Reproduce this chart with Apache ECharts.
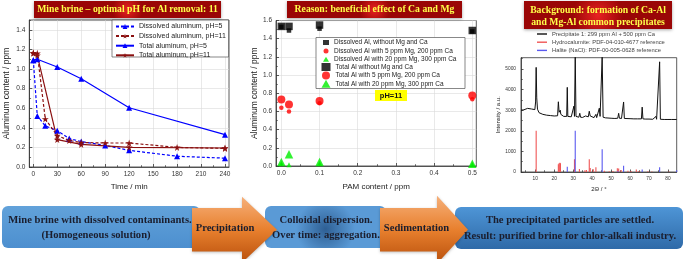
<!DOCTYPE html>
<html>
<head>
<meta charset="utf-8">
<script src="https://cdn.jsdelivr.net/npm/echarts@6/dist/echarts.min.js"></script>
<style>
  html, body { margin: 0; padding: 0; background: #fff; }
  #chart { width: 685px; height: 259px; }
</style>
</head>
<body>
<div id="chart"></div>
<script>
// ---- panel 1: Al content vs time ----
var timeTicks = [0, 30, 60, 90, 120, 150, 180, 210, 240]
var timeMinor = [15, 45, 75, 105, 135, 165, 195, 225]
var alTicks = [0, 0.2, 0.4, 0.6, 0.8, 1.0, 1.2, 1.4]
var alMinor = [0.1, 0.3, 0.5, 0.7, 0.9, 1.1, 1.3, 1.5]
var dissolvedPH5 = [[0, 1.09], [5, 0.52], [15, 0.42], [30, 0.37], [45, 0.29], [60, 0.26], [90, 0.22], [120, 0.17], [180, 0.11], [240, 0.09]]
var dissolvedPH11 = [[0, 1.16], [5, 1.16], [15, 0.49], [30, 0.32], [45, 0.27], [60, 0.25], [90, 0.245], [120, 0.245], [180, 0.20], [240, 0.19]]
var totalPH5 = [[0, 1.09], [5, 1.10], [30, 1.02], [60, 0.90], [120, 0.605], [240, 0.33]]
var totalPH11 = [[0, 1.165], [5, 1.14], [30, 0.28], [60, 0.23], [120, 0.20], [240, 0.194]]

// ---- panel 2: Al content vs PAM ----
var pamX = [0, 0.02, 0.1, 0.5]
var pamTicks = [0, 0.1, 0.2, 0.3, 0.4, 0.5]
var pamMinor = [0.05, 0.15, 0.25, 0.35, 0.45]
var al2Ticks = [0, 0.2, 0.4, 0.6, 0.8, 1.0, 1.2, 1.4, 1.6]
var al2Minor = [0.1, 0.3, 0.5, 0.7, 0.9, 1.1, 1.3, 1.5]
var dissNone = [1.53, 1.49, 1.51, 1.48]
var dissLow = [0.64, 0.60, 0.69, 0.735]
var dissHigh = [0.03, 0.015, 0.03, 0.02]
var totNone = [1.535, 1.535, 1.55, 1.49]
var totLow = [0.73, 0.675, 0.715, 0.775]
var totHigh = [0.045, 0.13, 0.045, 0.025]

// ---- panel 3: XRD ----
var thetaTicks = [10, 20, 30, 40, 50, 60, 70, 80]
var thetaMinor = [5, 15, 25, 35, 45, 55, 65, 75, 85]
var intTicks = [0, 1000, 2000, 3000, 4000, 5000]
var intMinor = [500, 1500, 2500, 3500, 4500, 5500]
var pattern = [[2.5, 3000], [4, 3020], [5, 3060], [6, 3090], [7, 3085], [8, 3060], [9, 3040], [9.8, 3030], [10.2, 3400], [10.5, 5080], [10.8, 3600], [11.2, 3050],
  [12, 2880], [13, 2830], [14, 2800], [15, 2780], [16, 2760], [17, 2750], [18, 2740], [19, 2730], [20, 2720], [21, 2720], [21.8, 2730], [22.2, 3410], [22.6, 2900],
  [23.0, 2880], [23.2, 3000], [23.5, 2800], [24, 2720], [25, 2700], [26, 2690], [26.6, 2700], [26.9, 4110], [27.2, 2700], [28, 2680], [29, 2680], [30, 2670],
  [30.4, 3200], [30.7, 2700], [31.1, 5600], [31.5, 2700], [32, 2660], [33, 2660], [33.5, 2850], [33.9, 2660], [35, 2650], [36, 2670], [36.5, 2720], [37, 2660],
  [38, 2680], [38.5, 2950], [39, 2720], [40, 2650], [41, 2640], [42, 2800], [42.4, 2640], [43, 2640], [43.8, 3100], [44.2, 2700], [44.8, 2660], [45.3, 5600],
  [45.8, 2660], [47, 2630], [48, 2620], [50, 2610], [52, 2600], [53.5, 2610], [54, 2850], [54.4, 2610], [55.5, 2600], [56.6, 3400], [57, 2600], [58, 2590],
  [60, 2590], [62, 2580], [64, 2580], [66, 2580], [66.4, 3150], [66.8, 2580], [68, 2570], [70, 2570], [72, 2560], [73.7, 2700], [74, 2560], [75, 2560],
  [75.6, 5350], [76, 2560], [78, 2550], [80, 2550], [82, 2550], [84.6, 2550]]
var hydrocalumite = [[10.5, 2000], [22.2, 380], [22.6, 420], [23.0, 450], [23.3, 430], [30.7, 620], [33.3, 140], [36.2, 80], [37.0, 100], [38.5, 620], [39.0, 200],
  [40.6, 130], [42.0, 230], [46.5, 60], [49.0, 40], [51.0, 50], [53.3, 180], [54.0, 170], [55.3, 100], [58.9, 60], [60.5, 50], [63.3, 120], [64.6, 50],
  [69.4, 40], [71.5, 30], [80.5, 30]]
var halite = [[26.9, 260], [31.1, 2000], [45.3, 1100], [53.6, 50], [56.6, 300], [66.4, 120], [75.6, 230], [84.6, 80]]

var chart = echarts.init(document.getElementById('chart'))
var SANS = 'Liberation Sans'
var SERIF = 'Liberation Serif'
var STAR = 'path://M50,0 L61,35 L98,35 L68,57 L79,91 L50,70 L21,91 L32,57 L2,35 L39,35 Z'

function fix1(v) { return v.toFixed(1) }
function plain(v) { return String(v) }

// 主刻度轴
function majorAxis(grid, min, max, ticks, o) {
  return {
    gridIndex: grid, type: 'value', min: min, max: max,
    axisLine: { show: true, onZero: false, lineStyle: { color: '#333', width: 0.8 } },
    axisTick: { show: true, inside: true, length: o.tickLen || 3, customValues: ticks, lineStyle: { color: '#333', width: 0.8 } },
    axisLabel: { customValues: ticks, fontSize: o.fontSize || 6.5, color: '#333', margin: o.margin || 4, fontFamily: SANS, formatter: o.formatter || plain },
    splitLine: { show: !!o.split, lineStyle: { color: '#dadada', width: 0.6 } },
    name: o.name, nameLocation: 'middle', nameGap: o.nameGap,
    nameTextStyle: { fontSize: o.nameSize || 8, color: '#222', fontFamily: SANS }
  }
}
// 次刻度轴 (只画刻度)
function minorAxis(grid, min, max, ticks, pos) {
  return {
    gridIndex: grid, type: 'value', min: min, max: max, position: pos,
    axisLine: { show: false, onZero: false },
    axisTick: { show: true, inside: true, length: 1.8, customValues: ticks, lineStyle: { color: '#333', width: 0.7 } },
    axisLabel: { show: false },
    splitLine: { show: false }
  }
}

function gradRed() {
  return new echarts.graphic.RadialGradient(0.5, 0.5, 0.9, [
    { offset: 0, color: '#e82222' }, { offset: 1, color: '#9a0606' }])
}
function gradArrow() {
  return new echarts.graphic.LinearGradient(0, 0, 0, 1, [
    { offset: 0, color: '#f6b07a' }, { offset: 0.5, color: '#e8802e' }, { offset: 1, color: '#b9500c' }])
}
function txt(x, y, s, font, fill) {
  return { type: 'text', x: x, y: y, z: 120,
    style: { text: s, font: font, fill: fill, align: 'center', verticalAlign: 'middle', textAlign: 'center', textVerticalAlign: 'middle' } }
}
function arrow(x0, xh, xt, yTop, yBot, hTop, hBot) {
  var yc = (yTop + yBot) / 2
  return { type: 'polygon', z: 110,
    shape: { points: [[x0, yTop], [xh, yTop], [xh, hTop], [xt, yc], [xh, hBot], [xh, yBot], [x0, yBot]] },
    style: { fill: gradArrow(), shadowBlur: 3, shadowColor: 'rgba(0,0,0,0.25)', shadowOffsetY: 1 } }
}

var titleFont = 'bold 9.7px "' + SERIF + '"'
var flowFont = 'bold 10.6px "' + SERIF + '"'
var flowColor = '#1b1e2e'

var graphics = [
  // 标题
  { type: 'rect', z: 100, shape: { x: 34, y: 1, width: 187, height: 17 }, style: { fill: gradRed(), shadowBlur: 3, shadowColor: 'rgba(0,0,0,0.35)', shadowOffsetY: 1 } },
  txt(127.5, 9.8, 'Mine brine – optimal pH for Al removal: 11', titleFont, '#ffff4a'),
  { type: 'rect', z: 100, shape: { x: 287, y: 1, width: 175, height: 17 }, style: { fill: gradRed(), shadowBlur: 3, shadowColor: 'rgba(0,0,0,0.35)', shadowOffsetY: 1 } },
  txt(374.5, 9.8, 'Reason: beneficial effect of Ca and Mg', titleFont, '#ffff4a'),
  { type: 'rect', z: 100, shape: { x: 524, y: 1, width: 148, height: 28 }, style: { fill: gradRed(), shadowBlur: 3, shadowColor: 'rgba(0,0,0,0.35)', shadowOffsetY: 1 } },
  txt(598, 10.5, 'Background: formation of Ca-Al', titleFont, '#ffff4a'),
  txt(598, 22.5, 'and Mg-Al common precipitates', titleFont, '#ffff4a'),
  // 图例边框
  { type: 'rect', z: 50, shape: { x: 112, y: 20, width: 116.5, height: 37 }, style: { fill: '#fff', stroke: '#555', lineWidth: 0.7 } },
  { type: 'rect', z: 50, shape: { x: 316, y: 37.5, width: 149, height: 51 }, style: { fill: '#fff', stroke: '#555', lineWidth: 0.7 } },
  { type: 'rect', z: 60, shape: { x: 375, y: 90, width: 32, height: 11 }, style: { fill: '#ffff00' } },
  txt(391, 95.8, 'pH=11', 'bold 7.5px "' + SANS + '"', '#111'),
  // 流程框
  { type: 'rect', z: 90, shape: { x: 2, y: 206, width: 198, height: 42, r: 6 },
    style: { fill: new echarts.graphic.LinearGradient(0, 0, 0, 1, [{ offset: 0, color: '#62a2da' }, { offset: 1, color: '#4d8fcf' }]) } },
  txt(100, 220, 'Mine brine with dissolved contaminants.', flowFont, flowColor),
  txt(96, 235.5, '(Homogeneous solution)', flowFont, flowColor),
  { type: 'rect', z: 90, shape: { x: 265, y: 206, width: 121, height: 42, r: 6 },
    style: { fill: new echarts.graphic.RadialGradient(0.5, 0.55, 0.7, [{ offset: 0, color: '#2e5f94' }, { offset: 1, color: '#5a9ad6' }]) } },
  txt(326, 220, 'Colloidal dispersion.', flowFont, flowColor),
  txt(326, 235.5, 'Over time: aggregation.', flowFont, flowColor),
  { type: 'rect', z: 90, shape: { x: 455, y: 207, width: 228, height: 42, r: 6 },
    style: { fill: new echarts.graphic.LinearGradient(0, 0, 0, 1, [{ offset: 0, color: '#4e95d6' }, { offset: 1, color: '#2f6aa8' }]) } },
  txt(570, 220, 'The precipitated particles are settled.', flowFont, flowColor),
  txt(570, 236, 'Result: purified brine for chlor-alkali industry.', flowFont, flowColor),
  arrow(192, 242, 277, 208, 251.5, 196.7, 262.7),
  txt(225, 228, 'Precipitation', flowFont, flowColor),
  arrow(380, 437, 468, 208, 251.5, 195.7, 263.7),
  txt(416.5, 228, 'Sedimentation', flowFont, flowColor)
]

var option = {
  animation: false,
  backgroundColor: '#fff',
  grid: [
    { left: 29.3, top: 20, width: 199.7, height: 147, show: true, borderColor: '#333', borderWidth: 0.8, backgroundColor: 'transparent' },
    { left: 276, top: 20.5, width: 200.3, height: 145.5, show: true, borderColor: '#333', borderWidth: 0.8, backgroundColor: 'transparent' },
    { left: 521, top: 57.7, width: 155.7, height: 114.3, show: true, borderColor: '#333', borderWidth: 0.8, backgroundColor: 'transparent' }
  ],
  xAxis: [
    majorAxis(0, -5, 245, timeTicks, { split: true, name: 'Time / min', nameGap: 16 }),
    majorAxis(1, -0.014, 0.5105, pamTicks, { split: true, name: 'PAM content / ppm', nameGap: 17, formatter: fix1 }),
    majorAxis(2, 2.5, 84.6, thetaTicks, { name: '2Θ / °', nameGap: 14, fontSize: 4.8, nameSize: 6, margin: 4, tickLen: 2.5 }),
    minorAxis(0, -5, 245, timeMinor, 'bottom'),
    minorAxis(1, -0.014, 0.5105, pamMinor, 'bottom'),
    minorAxis(2, 2.5, 84.6, thetaMinor, 'bottom')
  ],
  yAxis: [
    majorAxis(0, 0, 1.5, alTicks, { split: true, name: 'Aluminum content / ppm', nameGap: 18, nameSize: 8.5, formatter: fix1 }),
    majorAxis(1, 0, 1.6, al2Ticks, { split: true, name: 'Aluminum content / ppm', nameGap: 16, nameSize: 8.5, formatter: fix1 }),
    majorAxis(2, 0, 5550, intTicks, { name: 'Intensity / a.u.', nameGap: 19, fontSize: 4.8, nameSize: 6, margin: 5, tickLen: 2.5 }),
    minorAxis(0, 0, 1.5, alMinor, 'left'),
    minorAxis(1, 0, 1.6, al2Minor, 'left'),
    minorAxis(2, 0, 5550, intMinor, 'left')
  ],
  legend: [
    { left: 115, top: 23, orient: 'vertical', padding: 0, itemGap: 2.6, itemWidth: 18, itemHeight: 6, z: 60,
      textStyle: { fontSize: 7, color: '#222', fontFamily: SANS },
      data: ['Dissolved aluminum, pH=5', 'Dissolved aluminum, pH=11', 'Total aluminum, pH=5', 'Total aluminum, pH=11'] },
    { left: 323, top: 39, orient: 'vertical', padding: 0, itemGap: 1.4, itemWidth: 6, itemHeight: 5, z: 60,
      textStyle: { fontSize: 6.5, color: '#222', fontFamily: SANS },
      data: ['Dissolved Al, without Mg and Ca', 'Dissolved Al with 5 ppm Mg, 200 ppm Ca', 'Dissolved Al with 20 ppm Mg, 300 ppm Ca'] },
    { left: 321.5, top: 63, orient: 'vertical', padding: 0, itemGap: 0.4, itemWidth: 9, itemHeight: 8, z: 60,
      textStyle: { fontSize: 6.5, color: '#222', fontFamily: SANS },
      data: ['Total Al without Mg and Ca', 'Total Al with 5 ppm Mg, 200 ppm Ca', 'Total Al with 20 ppm Mg, 300 ppm Ca'] },
    { left: 537, top: 31, orient: 'vertical', padding: 0, itemGap: 2.2, itemWidth: 10, itemHeight: 1.4, icon: 'rect',
      textStyle: { fontSize: 5.8, color: '#444', fontFamily: SANS },
      data: ['Precipitate 1: 299 ppm Al + 500 ppm Ca', 'Hydrocalumite: PDF-04-010-4677 reference', 'Halite (NaCl): PDF-00-005-0628 reference'] }
  ],
  graphic: graphics,
  series: [
    { name: 'Dissolved aluminum, pH=5', type: 'line', xAxisIndex: 0, yAxisIndex: 0, data: dissolvedPH5,
      symbol: 'triangle', symbolSize: 6, color: '#0000ff', lineStyle: { width: 1.2, type: [3, 2] } },
    { name: 'Dissolved aluminum, pH=11', type: 'line', xAxisIndex: 0, yAxisIndex: 0, data: dissolvedPH11,
      symbol: STAR, symbolSize: 7, color: '#8b1010', lineStyle: { width: 1.2, type: [3, 2] } },
    { name: 'Total aluminum, pH=5', type: 'line', xAxisIndex: 0, yAxisIndex: 0, data: totalPH5,
      symbol: 'triangle', symbolSize: 6, color: '#0000ff', lineStyle: { width: 1.2 } },
    { name: 'Total aluminum, pH=11', type: 'line', xAxisIndex: 0, yAxisIndex: 0, data: totalPH11,
      symbol: STAR, symbolSize: 7, color: '#8b1010', lineStyle: { width: 1.2 } },

    { name: 'Total Al without Mg and Ca', type: 'scatter', xAxisIndex: 1, yAxisIndex: 1, symbol: 'rect', symbolSize: 7.5, color: '#000',
      data: pamX.map(function (x, i) { return [x, totNone[i]] }) },
    { name: 'Total Al with 5 ppm Mg, 200 ppm Ca', type: 'scatter', xAxisIndex: 1, yAxisIndex: 1, symbol: 'circle', symbolSize: 8, color: '#ff0000',
      data: pamX.map(function (x, i) { return [x, totLow[i]] }) },
    { name: 'Total Al with 20 ppm Mg, 300 ppm Ca', type: 'scatter', xAxisIndex: 1, yAxisIndex: 1, symbol: 'triangle', symbolSize: 8.5, color: '#00ee00',
      data: pamX.map(function (x, i) { return [x, totHigh[i]] }) },
    { name: 'Dissolved Al, without Mg and Ca', type: 'scatter', xAxisIndex: 1, yAxisIndex: 1, symbol: 'rect', symbolSize: 4.5, color: '#000',
      data: pamX.map(function (x, i) { return [x, dissNone[i]] }) },
    { name: 'Dissolved Al with 5 ppm Mg, 200 ppm Ca', type: 'scatter', xAxisIndex: 1, yAxisIndex: 1, symbol: 'circle', symbolSize: 4.5, color: '#ff0000',
      data: pamX.map(function (x, i) { return [x, dissLow[i]] }) },
    { name: 'Dissolved Al with 20 ppm Mg, 300 ppm Ca', type: 'scatter', xAxisIndex: 1, yAxisIndex: 1, symbol: 'triangle', symbolSize: 5, color: '#00ee00',
      data: pamX.map(function (x, i) { return [x, dissHigh[i]] }) },

    { name: 'Hydrocalumite: PDF-04-010-4677 reference', type: 'bar', xAxisIndex: 2, yAxisIndex: 2, data: hydrocalumite,
      barWidth: 1.1, barGap: '-100%', color: '#f05555' },
    { name: 'Halite (NaCl): PDF-00-005-0628 reference', type: 'bar', xAxisIndex: 2, yAxisIndex: 2, data: halite,
      barWidth: 1.1, barGap: '-100%', color: '#5a5af0' },
    { name: 'Precipitate 1: 299 ppm Al + 500 ppm Ca', type: 'line', xAxisIndex: 2, yAxisIndex: 2, data: pattern,
      symbol: 'none', color: '#111', lineStyle: { width: 1 } }
  ]
}
chart.setOption(option)
</script>
</body>
</html>
